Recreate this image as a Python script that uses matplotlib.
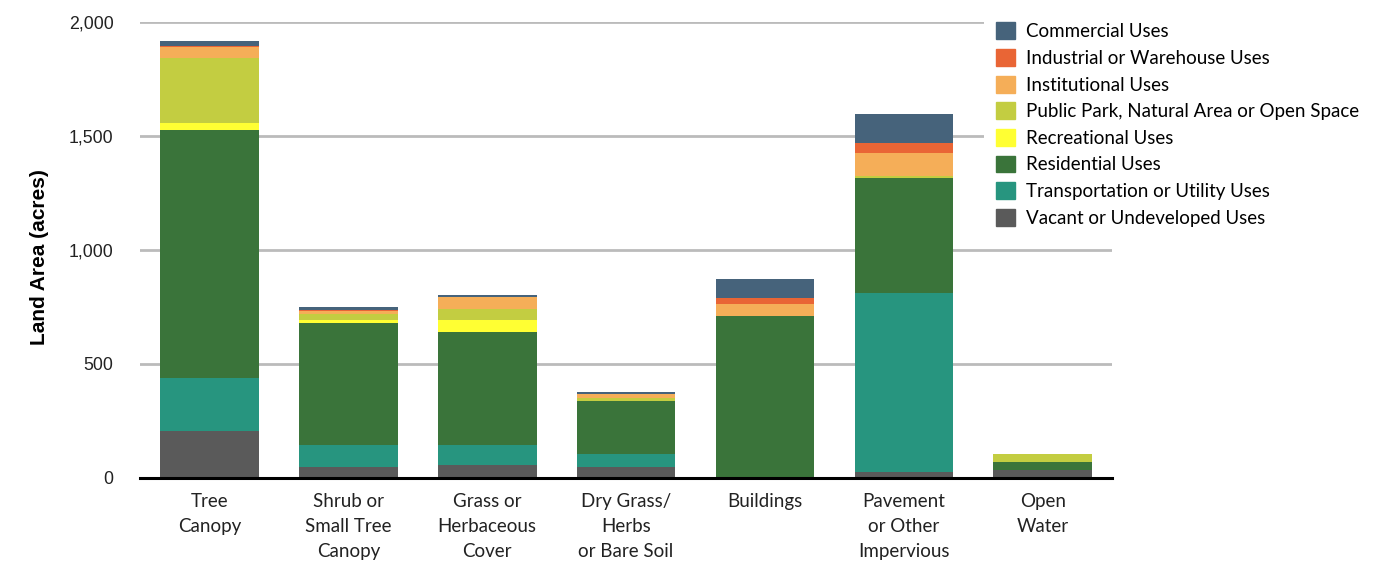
import numpy as np
import matplotlib.pyplot as plt
from matplotlib.patches import Patch

# =========================
# data (acres)
# =========================
categories = ["Tree\nCanopy", "Shrub or\nSmall Tree\nCanopy", "Grass or\nHerbaceous\nCover",
              "Dry Grass/\nHerbs\nor Bare Soil", "Buildings", "Pavement\nor Other\nImpervious",
              "Open\nWater"]

vacant         = [206, 48, 57, 48, 0, 26, 33]
transportation = [234, 97, 88, 57, 0, 785, 0]
residential    = [1086, 535, 496, 232, 710, 505, 39]
recreational   = [32, 13, 53, 0, 0, 0, 0]
park           = [285, 28, 48, 13, 0, 9, 31]
institutional  = [47, 12, 53, 18, 53, 101, 0]
industrial     = [6, 5, 0, 0, 26, 44, 0]
commercial     = [22, 12, 9, 9, 83, 127, 0]

series_names = ["Vacant or Undeveloped Uses", "Transportation or Utility Uses", "Residential Uses",
                "Recreational Uses", "Public Park, Natural Area or Open Space",
                "Institutional Uses", "Industrial or Warehouse Uses", "Commercial Uses"]
series_vals = [vacant, transportation, residential, recreational, park,
               institutional, industrial, commercial]
colors = ["#5a5a5a", "#27957f", "#3a743a", "#ffff33", "#c3cd41",
          "#f5ae58", "#e96535", "#46637b"]

# =========================
# plot
# =========================
plt.rcParams['font.family'] = ['Lato', 'DejaVu Sans']

fig = plt.figure(figsize=(13.92, 5.61), dpi=100)
ax = fig.add_axes([0.1006, 0.148, 0.6984, 0.813])

x = np.arange(len(categories))
bottom = np.zeros(len(categories))
for name, vals, c in zip(series_names, series_vals, colors):
    vals = np.array(vals, dtype=float)
    ax.bar(x, vals, bottom=bottom, width=0.71, color=c, label=name, zorder=3)
    bottom += vals

ax.set_xlim(-0.5, len(categories) - 0.5)
ax.set_ylim(0, 2000)
ax.set_yticks([0, 500, 1000, 1500, 2000])
ax.set_yticklabels(["0", "500", "1,000", "1,500", "2,000"],
                   family=['Liberation Sans', 'DejaVu Sans'], fontsize=12.8, color='#222222')
ax.set_xticks(x)
ax.set_xticklabels(categories, linespacing=1.57, fontsize=13.5, color='#222222')
ax.tick_params(axis='both', length=0)
ax.tick_params(axis='x', pad=11)
ax.tick_params(axis='y', pad=19)

ax.grid(axis='y', color='#bbbbbb', linewidth=2, zorder=0)
for s in ['top', 'right', 'left']:
    ax.spines[s].set_visible(False)
ax.spines['bottom'].set_linewidth(2.2)
ax.spines['bottom'].set_zorder(4)

ax.set_ylabel("Land Area (acres)", fontsize=15, fontweight='bold',
              family=['Liberation Sans', 'DejaVu Sans'])
ax.yaxis.set_label_coords(-0.094, 0.484)

# legend box is white and hides the grid lines behind it
handles = [Patch(color=c, label=n) for n, c in zip(series_names, colors)][::-1]
leg = fig.legend(handles=handles, loc='upper left', bbox_to_anchor=(0.700, 0.998),
                 frameon=True, fancybox=False, facecolor='white', edgecolor='none',
                 framealpha=1, borderpad=0.64, fontsize=13.5, handlelength=1.0,
                 handleheight=1.0, handletextpad=0.6, labelspacing=0.47)

fig.savefig("out.png", dpi=100)
